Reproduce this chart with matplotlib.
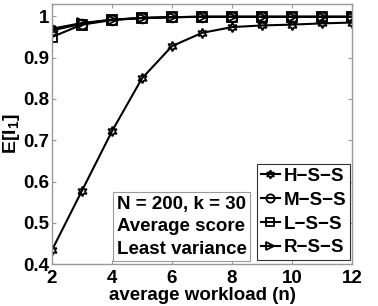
import matplotlib
matplotlib.use("Agg")
import matplotlib.pyplot as plt

plt.rcParams['font.family'] = ['Liberation Sans', 'DejaVu Sans']
plt.rcParams['font.weight'] = 'bold'
plt.rcParams['mathtext.fontset'] = 'custom'
plt.rcParams['mathtext.bf'] = 'Liberation Sans:bold'
plt.rcParams['mathtext.rm'] = 'Liberation Sans:bold'

workload = [2, 3, 4, 5, 6, 7, 8, 9, 10, 11, 12]
hss = [0.434, 0.578, 0.722, 0.850, 0.928, 0.960, 0.974, 0.978, 0.980, 0.983, 0.985]
mss = [0.966, 0.982, 0.992, 0.996, 0.998, 0.999, 0.999, 0.999, 0.999, 0.999, 0.999]
lss = [0.950, 0.980, 0.991, 0.996, 0.998, 0.999, 0.999, 0.999, 0.999, 0.999, 0.999]
rss = [0.970, 0.984, 0.992, 0.996, 0.998, 0.999, 0.999, 0.999, 0.999, 0.999, 0.999]
labels = ['H\u2212S\u2212S', 'M\u2212S\u2212S', 'L\u2212S\u2212S', 'R\u2212S\u2212S']
xticks = [2, 4, 6, 8, 10, 12]
yticks = [0.4, 0.5, 0.6, 0.7, 0.8, 0.9, 1.0]
ytick_labels = ['0.4', '0.5', '0.6', '0.7', '0.8', '0.9', '1']

FS = 13.5
fig = plt.figure(figsize=(3.78, 3.06), dpi=100)
ax = fig.add_axes([0.1376, 0.137, 0.7937, 0.85])

markers = [(6, 1, 0), 'o', 's', '>']
series = [hss, mss, lss, rss]
for s, m, lab in zip(series, markers, labels):
    ax.plot(workload, s, color='black', lw=1.5, marker=m, markersize=7,
            markerfacecolor='none', markeredgecolor='black', markeredgewidth=1.3,
            label=lab)

ax.set_xlim(2, 12)
ax.set_ylim(0.4, 1.03)
ax.set_xticks(xticks)
ax.set_yticks(yticks)
ax.set_yticklabels(ytick_labels)
ax.tick_params(direction='in', top=True, right=True, labelsize=FS, length=3,
               color='#999999', width=0.8)
ax.tick_params(axis='y', pad=2)
ax.tick_params(axis='x', pad=4)
for sp in ax.spines.values():
    sp.set_color('#999999')
    sp.set_linewidth(1.0)
for lab in ax.get_xticklabels() + ax.get_yticklabels():
    lab.set_fontweight('bold')

ax.set_xlabel('average workload (n)', fontsize=FS, fontweight='bold', labelpad=0.5)
ax.set_ylabel('E[I$_\\mathbf{1}$]', fontsize=FS + 0.5, fontweight='bold', labelpad=1)

leg = ax.legend(loc='lower right', bbox_to_anchor=(0.993, 0.015), fontsize=FS,
                handlelength=1.0, handletextpad=0.2, borderpad=0.2,
                labelspacing=0.36, fancybox=False, framealpha=1,
                borderaxespad=0, markerscale=0.85)
leg.get_frame().set_edgecolor('#333333')
leg.get_frame().set_linewidth(0.8)
for t in leg.get_texts():
    t.set_fontweight('bold')

ax.text(0.215, 0.025, 'N = 200, k = 30\nAverage score\nLeast variance',
        transform=ax.transAxes, fontsize=FS, fontweight='bold',
        ha='left', va='bottom', linespacing=1.4,
        bbox=dict(boxstyle='square,pad=0.2', facecolor='white',
                  edgecolor='#999999', linewidth=0.8))

fig.savefig('out.png', dpi=100)
